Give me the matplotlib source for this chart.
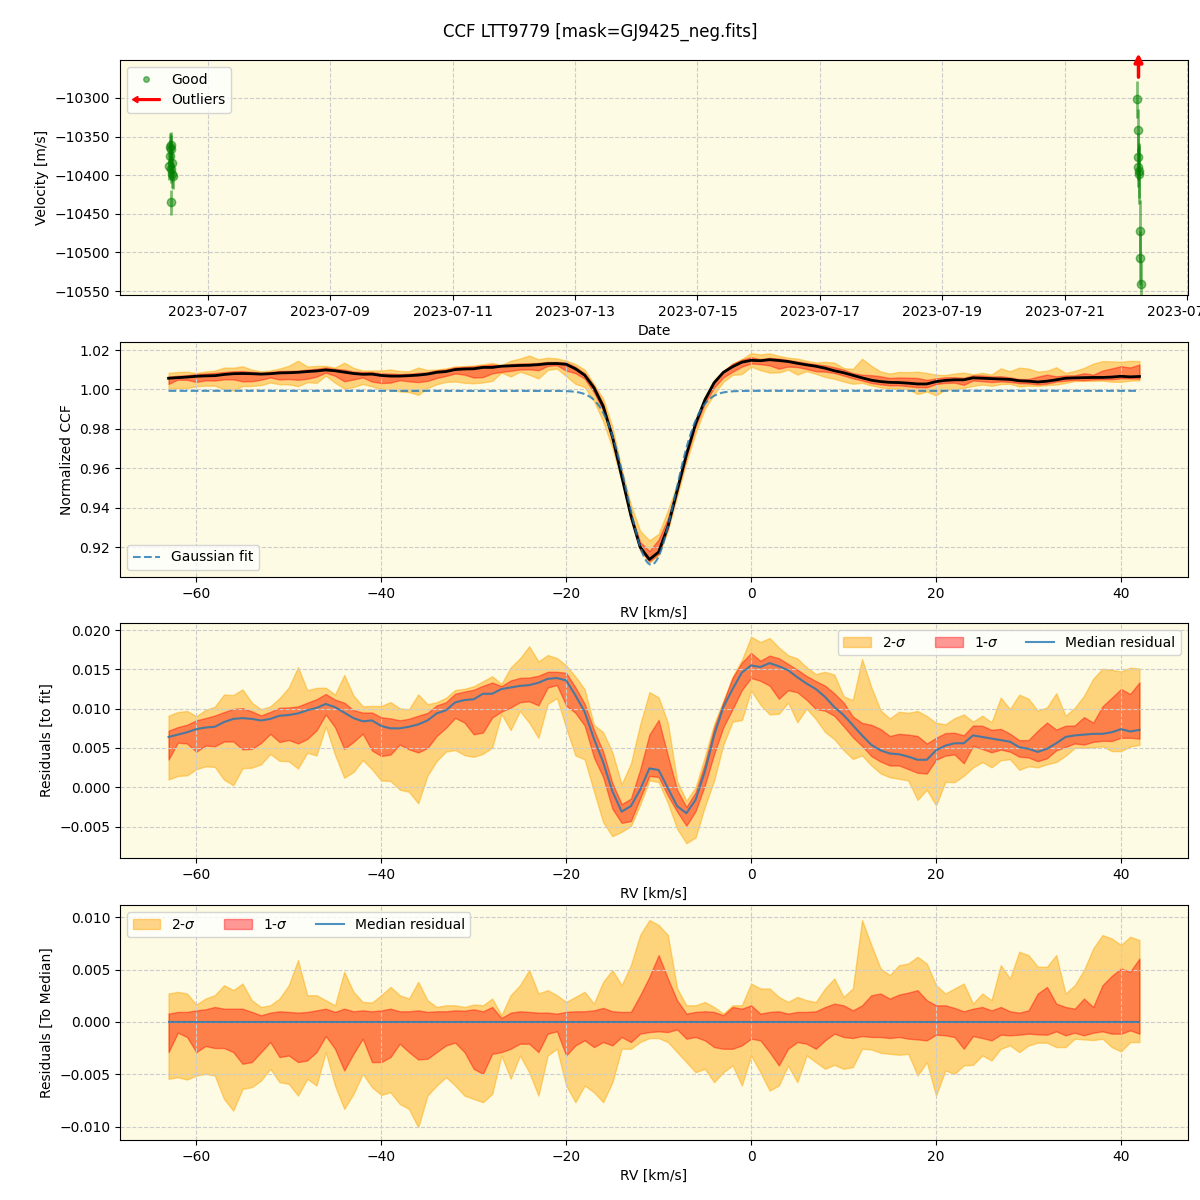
import numpy as np
import pandas as pd
import matplotlib
matplotlib.use("Agg")
import matplotlib.pyplot as plt
import matplotlib.dates as mdates
import matplotlib.patches as mpatches
from matplotlib.lines import Line2D
from matplotlib.legend_handler import HandlerPatch

# ---------------- data ----------------
# RV time series (top panel)
good_times = ["2023-07-06 08:50", "2023-07-06 09:00", "2023-07-06 09:10", "2023-07-06 09:20",
              "2023-07-06 09:30", "2023-07-06 09:40", "2023-07-06 09:50", "2023-07-06 10:00",
              "2023-07-06 10:10", "2023-07-06 09:35",
              "2023-07-22 04:30", "2023-07-22 04:40", "2023-07-22 04:50", "2023-07-22 05:00",
              "2023-07-22 05:10", "2023-07-22 05:20", "2023-07-22 05:30", "2023-07-22 05:40",
              "2023-07-22 05:50"]
good_rv = [-10388, -10375, -10363, -10361, -10392, -10366, -10384, -10399, -10401, -10435,
           -10302, -10342, -10376, -10390, -10394, -10399, -10472, -10507, -10541]
good_err = [18, 20, 18, 17, 18, 18, 18, 18, 17, 16,
            24, 28, 30, 25, 35, 38, 40, 35, 30]
outlier_times = ["2023-07-22 05:00"]

# CCF grid (km/s)
rv = np.arange(-63, 43, 1)

# median residual to the Gaussian fit (x1e-3)
med_resid = [6.4, 6.7, 7.0, 7.4, 7.6, 7.7, 8.3, 8.7, 8.8, 8.7,
             8.5, 8.7, 9.1, 9.2, 9.4, 9.8, 10.1, 10.6, 10.2, 9.5,
             8.8, 8.4, 8.5, 7.8, 7.5, 7.5, 7.7, 8.0, 8.5, 9.4,
             9.8, 10.8, 11.1, 11.2, 11.9, 11.9, 12.5, 12.7, 12.9, 13.0,
             13.3, 13.8, 13.9, 13.6, 11.7, 9.6, 6.2, 3.2, -0.5, -3.1,
             -2.4, -0.3, 2.4, 2.2, -0.1, -2.4, -3.3, -1.6, 2.0, 6.6,
             10.2, 12.5, 14.6, 15.5, 15.3, 15.8, 15.4, 14.9, 14.0, 13.2,
             12.5, 11.5, 10.2, 9.2, 7.9, 6.6, 5.4, 4.7, 4.3, 4.2,
             3.9, 3.5, 3.5, 4.7, 5.3, 5.6, 5.6, 6.6, 6.4, 6.2,
             6.0, 5.8, 5.1, 4.9, 4.5, 4.9, 5.6, 6.4, 6.6, 6.7,
             6.8, 6.8, 7.0, 7.4, 7.1, 7.3]

# quantile offsets relative to the median (x1e-3)
upper_2s = [2.71, 2.87, 2.71, 1.66, 2.23, 2.55, 3.50, 3.03, 3.66, 2.07,
            1.43, 1.59, 2.23, 3.50, 5.89, 2.55, 2.55, 2.07, 1.59, 4.78,
            2.87, 1.91, 1.85, 2.55, 3.34, 2.55, 2.23, 3.82, 2.07, 1.43,
            1.59, 1.59, 1.43, 1.66, 1.59, 2.23, 0.64, 2.55, 3.50, 4.94,
            2.71, 3.03, 2.55, 1.91, 2.39, 2.87, 1.75, 3.82, 4.94, 3.50,
            5.41, 8.28, 9.71, 9.24, 8.28, 3.19, 1.59, 1.59, 1.91, 1.43,
            0.80, 1.59, 1.59, 3.66, 3.19, 3.19, 2.39, 1.91, 2.39, 2.07,
            1.91, 3.19, 4.14, 2.39, 3.19, 9.71, 7.33, 5.10, 4.46, 5.41,
            5.57, 6.21, 5.57, 3.50, 2.71, 3.19, 3.66, 1.75, 2.71, 2.07,
            5.41, 4.14, 6.69, 6.37, 5.26, 5.26, 6.37, 2.71, 3.50, 4.94,
            7.01, 8.28, 7.96, 7.33, 8.12, 7.80]
upper_1s = [0.80, 0.96, 0.96, 1.11, 1.21, 1.43, 1.27, 1.27, 1.27, 0.96,
            0.64, 0.89, 1.02, 0.96, 0.89, 0.96, 1.11, 1.27, 0.96, 1.27,
            1.02, 1.11, 1.02, 1.11, 1.27, 1.02, 1.02, 1.11, 0.96, 1.02,
            1.02, 1.11, 1.08, 1.21, 1.02, 1.43, 0.38, 0.89, 1.02, 0.96,
            0.89, 0.89, 0.80, 0.96, 1.02, 1.02, 1.11, 1.34, 1.02, 0.96,
            0.96, 2.55, 4.30, 6.37, 4.14, 2.07, 0.80, 0.96, 1.02, 0.96,
            0.64, 1.43, 1.27, 1.59, 0.80, 0.96, 1.02, 0.80, 0.96, 0.96,
            1.02, 1.43, 1.75, 1.59, 1.11, 1.59, 2.55, 2.71, 2.23, 2.61,
            2.80, 3.03, 2.07, 1.59, 1.59, 1.34, 1.02, 1.27, 1.43, 1.11,
            1.43, 1.02, 0.89, 1.11, 2.71, 3.34, 1.75, 1.43, 1.27, 2.23,
            1.43, 3.50, 4.39, 5.10, 4.78, 6.05]
lower_1s = [-2.87, -1.02, -1.43, -2.87, -2.29, -2.48, -2.48, -2.87, -3.98, -3.82,
            -2.87, -1.91, -3.34, -3.19, -3.82, -3.66, -2.87, -1.34, -2.55, -4.62,
            -3.03, -1.59, -3.82, -3.82, -3.34, -2.07, -2.87, -3.57, -3.50, -2.87,
            -2.23, -1.97, -2.87, -4.46, -4.94, -3.03, -2.87, -2.55, -2.07, -2.07,
            -2.87, -1.11, -0.89, -3.19, -2.23, -1.75, -2.39, -1.91, -2.23, -1.43,
            -1.91, -1.11, -0.96, -0.89, -0.96, -0.70, -1.59, -1.43, -1.75, -2.39,
            -2.55, -2.55, -2.23, -1.59, -1.75, -2.87, -4.14, -2.55, -1.91, -2.07,
            -2.55, -1.75, -1.11, -1.43, -1.53, -1.34, -1.43, -1.43, -1.53, -1.43,
            -1.59, -1.66, -1.75, -1.21, -1.27, -1.43, -2.55, -1.34, -1.53, -1.75,
            -1.21, -1.27, -1.21, -1.11, -1.18, -1.21, -0.89, -1.27, -1.02, -1.27,
            -1.02, -0.89, -1.11, -1.11, -0.80, -1.11]
lower_2s = [-5.41, -5.26, -5.48, -5.10, -4.94, -5.10, -7.33, -8.44, -6.37, -6.21,
            -5.57, -4.46, -5.73, -5.89, -7.01, -5.41, -6.05, -2.87, -6.05, -8.28,
            -6.85, -4.94, -6.21, -6.94, -6.69, -7.80, -8.28, -10.03, -7.01, -6.05,
            -5.26, -6.05, -7.01, -7.33, -7.64, -6.85, -3.19, -5.41, -3.19, -4.78,
            -7.01, -3.19, -2.55, -6.05, -7.64, -6.05, -6.69, -7.64, -5.73, -2.55,
            -2.55, -1.91, -1.53, -1.53, -1.91, -2.87, -3.82, -4.78, -4.46, -5.73,
            -4.78, -4.14, -6.05, -3.19, -4.78, -6.53, -6.05, -4.14, -5.73, -3.19,
            -3.82, -4.46, -4.08, -4.46, -4.30, -2.55, -2.61, -2.93, -3.03, -3.12,
            -3.03, -5.10, -3.82, -7.01, -4.62, -4.94, -4.14, -4.08, -3.19, -3.66,
            -2.55, -2.23, -2.87, -2.23, -1.97, -1.97, -2.39, -2.39, -1.59, -1.66,
            -1.72, -1.59, -2.39, -2.80, -1.91, -1.91]

# Gaussian fit parameters
fit_continuum = 0.9993
fit_depth = 0.0883
fit_center = -10.8
fit_sigma = 2.55

# ---------------- derived ----------------
scale = 1e-3
med = np.array(med_resid) * scale
u2 = np.array(upper_2s) * scale
u1 = np.array(upper_1s) * scale
l1 = np.array(lower_1s) * scale
l2 = np.array(lower_2s) * scale


def gauss(x):
    return fit_continuum - fit_depth * np.exp(-0.5 * ((x - fit_center) / fit_sigma) ** 2)


g_grid = gauss(rv.astype(float))
rv_fine = np.linspace(rv.min(), rv.max(), 600)
g_fine = gauss(rv_fine)

t_good = pd.to_datetime(good_times)
t_out = pd.to_datetime(outlier_times)

# ---------------- plot ----------------
FACE = "#fdfbe3"
C2 = "orange"
C1 = "red"
A2, A1 = 0.45, 0.4
LINEC = "C0"

fig = plt.figure(figsize=(12, 12), dpi=100)
axes = [fig.add_axes([0.1, b, 0.89, 0.1958]) for b in (0.7542, 0.5192, 0.285, 0.05)]
ax1, ax2, ax3, ax4 = axes
for ax in axes:
    ax.set_facecolor(FACE)
    ax.grid(True, linestyle="--", color="#cccccc", linewidth=0.8)

fig.text(0.5, 0.9733, "CCF LTT9779 [mask=GJ9425_neg.fits]", ha="center", va="center", fontsize=12)

# Panel 1
ax1.errorbar(t_good, good_rv, yerr=good_err, fmt="o", color="green", alpha=0.5,
             ms=6, elinewidth=2, capsize=0)
for t in t_out:
    ax1.annotate("", xy=(mdates.date2num(t), 1.04), xytext=(mdates.date2num(t), 0.915),
                 xycoords=("data", "axes fraction"), textcoords=("data", "axes fraction"),
                 arrowprops=dict(arrowstyle="-|>", color="red", lw=2.5, mutation_scale=12),
                 annotation_clip=False)
ax1.set_xlim(pd.Timestamp("2023-07-05 13:30"), pd.Timestamp("2023-07-23 00:25"))
ax1.set_ylim(-10555, -10251)
ax1.xaxis.set_major_locator(mdates.DayLocator(bymonthday=range(1, 32, 2)))
ax1.xaxis.set_major_formatter(mdates.DateFormatter("%Y-%m-%d"))
ax1.set_xlabel("Date")
ax1.set_ylabel("Velocity [m/s]")


def make_arrow(legend, orig_handle, xdescent, ydescent, width, height, fontsize):
    return mpatches.FancyArrow(width, 0.5 * height, -width, 0, width=height * 0.18,
                               head_width=height * 0.65, head_length=height * 0.55,
                               length_includes_head=True, color="red")


good_proxy = Line2D([], [], marker="o", ls="", color="green", alpha=0.5, ms=4)
out_proxy = mpatches.FancyArrow(0, 0, 1, 0, color="red")
ax1.legend([good_proxy, out_proxy], ["Good", "Outliers"], loc="upper left",
           handler_map={mpatches.FancyArrow: HandlerPatch(patch_func=make_arrow)})

# Panel 2
base = g_grid + med
ax2.fill_between(rv, base + l2, base + u2, color=C2, alpha=A2)
ax2.fill_between(rv, base + l1, base + u1, color=C1, alpha=A1)
ax2.plot(rv, base, color="black", lw=2)
ax2.plot(rv_fine, g_fine, ls="--", color=LINEC, alpha=0.8, lw=1.5, label="Gaussian fit")
ax2.set_xlim(-68.25, 47.25)
ax2.set_ylim(0.9048, 1.0241)
ax2.set_xlabel("RV [km/s]")
ax2.set_ylabel("Normalized CCF")
ax2.legend(loc="lower left")

# Panel 3
ax3.fill_between(rv, med + l2, med + u2, color=C2, alpha=A2, label="2-$\\sigma$")
ax3.fill_between(rv, med + l1, med + u1, color=C1, alpha=A1, label="1-$\\sigma$")
ax3.plot(rv, med, color=LINEC, alpha=0.8, lw=1.5, label="Median residual")
ax3.set_xlim(-68.25, 47.25)
ax3.set_ylim(-0.0090, 0.0209)
ax3.set_xlabel("RV [km/s]")
ax3.set_ylabel("Residuals [to fit]")
ax3.legend(loc="upper right", ncol=3)

# Panel 4
ax4.fill_between(rv, l2, u2, color=C2, alpha=A2, label="2-$\\sigma$")
ax4.fill_between(rv, l1, u1, color=C1, alpha=A1, label="1-$\\sigma$")
ax4.plot(rv, med - med, color=LINEC, alpha=0.8, lw=1.5, label="Median residual")
ax4.set_xlim(-68.25, 47.25)
ax4.set_ylim(-0.01124, 0.01114)
ax4.set_xlabel("RV [km/s]")
ax4.set_ylabel("Residuals [To Median]")
ax4.legend(loc="upper left", ncol=3)

fig.savefig("out.png", dpi=100)
